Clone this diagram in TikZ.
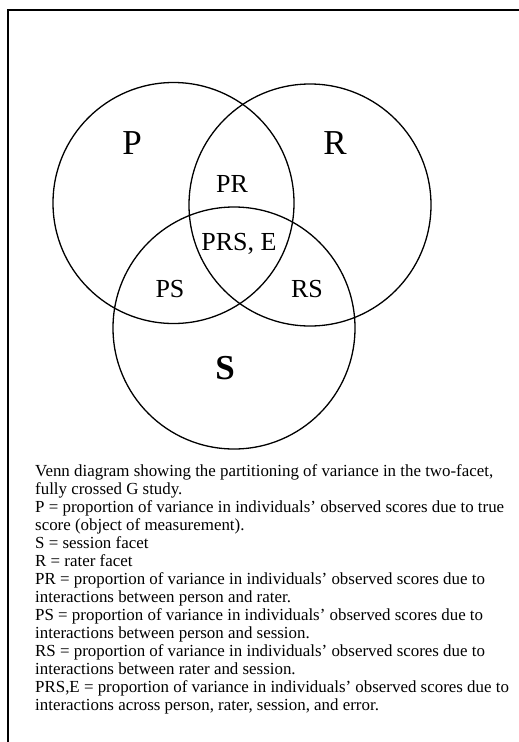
\documentclass[tikz,border=0pt]{standalone}
\usepackage{fontspec}
\setmainfont{Liberation Serif}
\begin{document}
\begin{tikzpicture}[x=1pt,y=-1pt,
  venn/.style={draw=black,line width=1.3pt},
  frameline/.style={draw=black,line width=1.6pt},
  biglabel/.style={font=\fontsize{35}{40}\selectfont,inner sep=0pt},
  smalllabel/.style={font=\fontsize{26}{30}\selectfont,inner sep=0pt},
  capline/.style={anchor=base west,inner sep=0pt,font=\fontsize{16.9}{18}\selectfont}]
\useasboundingbox (0,0) rectangle (519,742);
% frame
\coordinate (ftl) at (8,10);
\coordinate (ftr) at (519,10);
\coordinate (fbl) at (8,742);
\draw[frameline] (ftr) -- (ftl) -- (fbl);
% circles
\coordinate (cp) at (173.5,203);
\coordinate (cr) at (310,205);
\coordinate (cs) at (234,328);
\draw[venn] (cp) circle[radius=120.5];
\draw[venn] (cr) circle[radius=121];
\draw[venn] (cs) circle[radius=121];
% labels
\node[biglabel] (lp) at (132,143) {P};
\node[biglabel] (lr) at (335,143) {R};
\node[biglabel,font=\fontsize{35}{40}\selectfont\bfseries] (ls) at (225,368) {S};
\node[smalllabel] (lpr) at (232,184) {PR};
\node[smalllabel] (lprs) at (239,244) {PRS, E};
\node[smalllabel] (lps) at (170,289) {PS};
\node[smalllabel] (lrs) at (307,289) {RS};
% caption
\node[capline] (t1) at (35,476) {Venn diagram showing the partitioning of variance in the two-facet,};
\node[capline] (t2) at (35,494) {fully crossed G study.};
\node[capline] (t3) at (35,512) {P = proportion of variance in individuals' observed scores due to true};
\node[capline] (t4) at (35,530) {score (object of measurement).};
\node[capline] (t5) at (35,548) {S = session facet};
\node[capline] (t6) at (35,566) {R = rater facet};
\node[capline] (t7) at (35,584) {PR = proportion of variance in individuals' observed scores due to};
\node[capline] (t8) at (35,602) {interactions between person and rater.};
\node[capline] (t9) at (35,620) {PS = proportion of variance in individuals' observed scores due to};
\node[capline] (t10) at (35,638) {interactions between person and session.};
\node[capline] (t11) at (35,656) {RS = proportion of variance in individuals' observed scores due to};
\node[capline] (t12) at (35,674) {interactions between rater and session.};
\node[capline] (t13) at (35,692) {PRS,E = proportion of variance in individuals' observed scores due to};
\node[capline] (t14) at (35,710) {interactions across person, rater, session, and error.};
\end{tikzpicture}
\end{document}
